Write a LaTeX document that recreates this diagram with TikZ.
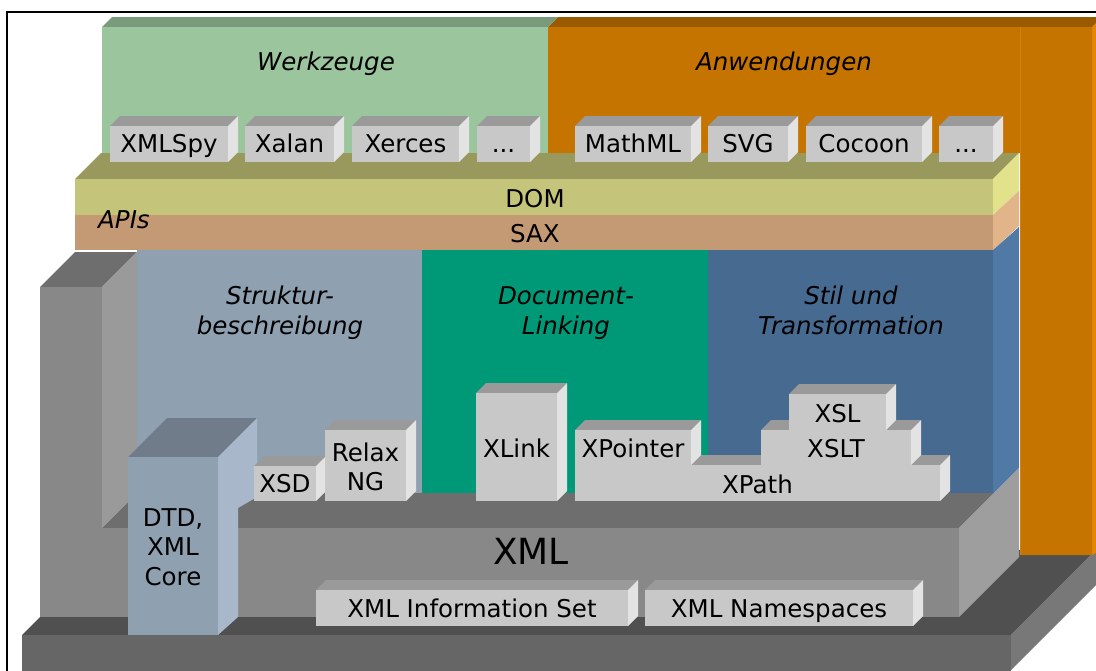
\documentclass[tikz,border=0pt]{standalone}
\usepackage{fontspec}
\setmainfont{DejaVu Sans}
\definecolor{greenF}{HTML}{9BC59D}
\definecolor{greenT}{HTML}{7A9A7C}
\definecolor{orangeF}{HTML}{C67400}
\definecolor{orangeT}{HTML}{9A5A00}
\definecolor{orangeS}{HTML}{E58600}
\definecolor{orangeL}{HTML}{D4800E}
\definecolor{boxF}{HTML}{C8C8C8}
\definecolor{boxT}{HTML}{9A9A9A}
\definecolor{boxS}{HTML}{E3E3E3}
\definecolor{apiT}{HTML}{99995E}
\definecolor{domF}{HTML}{C4C47A}
\definecolor{domS}{HTML}{E2E28A}
\definecolor{saxF}{HTML}{C49A74}
\definecolor{saxS}{HTML}{E2B48A}
\definecolor{strukF}{HTML}{8FA0B1}
\definecolor{tealF}{HTML}{009977}
\definecolor{stilF}{HTML}{476A90}
\definecolor{stilS}{HTML}{5079A6}
\definecolor{xmlF}{HTML}{888888}
\definecolor{xmlT}{HTML}{6E6E6E}
\definecolor{xmlS}{HTML}{9E9E9E}
\definecolor{colS}{HTML}{9A9A9A}
\definecolor{baseF}{HTML}{666666}
\definecolor{baseT}{HTML}{505050}
\definecolor{baseS}{HTML}{787878}
\definecolor{dtdT}{HTML}{707C8A}
\definecolor{dtdS}{HTML}{A8B8CA}
\newcommand\drawcube[8]{%
  \fill[#7] (#1,#2) -- (#3,#2) -- ({#3+#5},{#2-#5}) -- ({#1+#5},{#2-#5}) -- cycle;
  \fill[#8] (#3,#2) -- ({#3+#5},{#2-#5}) -- ({#3+#5},{#4-#5}) -- (#3,#4) -- cycle;
  \fill[#6] (#1,#2) rectangle (#3,#4);
}
\begin{document}
\begin{tikzpicture}[x=1pt,y=-1pt,
  lbl/.style={font=\fontsize{24.5}{29}\selectfont, inner sep=0pt, anchor=base, text=black},
  ital/.style={lbl, font=\fontsize{24.5}{29}\selectfont\itshape},
  big/.style={lbl, font=\fontsize{36}{40}\selectfont}]
\useasboundingbox (0,0) rectangle (1096,670);
\begin{scope}
\clip (0,0) rectangle (1096,670);
% base slab
\fill[baseT] (22,635) -- (1011,635) -- (1096,550) -- (107,550) -- cycle;
\fill[baseS] (1011,635) -- (1096,550) -- (1106,550) -- (1106,575) -- (1011,670) -- cycle;
\fill[baseF] (22,635) rectangle (1011,672);
% orange block (Anwendungen) with column
\fill[orangeT] (548,27) -- (1110,27) -- (1110,17) -- (558,17) -- cycle;
\fill[orangeS] (1092,27) -- (1102,17) -- (1110,17) -- (1110,545) -- (1092,555) -- cycle;
\fill[orangeF] (548,27) -- (1092,27) -- (1092,555) -- (1020,555) -- (1020,153) -- (548,153) -- cycle;
\draw[orangeL, line width=0.8pt] (1020,27) -- (1020,555);
% green block (Werkzeuge)
\fill[greenT] (102,27) -- (548,27) -- (558,17) -- (112,17) -- cycle;
\fill[greenF] (102,27) rectangle (548,153);
% API layer
\fill[apiT] (75,179) -- (993,179) -- (1019,153) -- (101,153) -- cycle;
\fill[domF] (75,179) rectangle (993,215);
\fill[saxF] (75,215) rectangle (993,250);
\fill[domS] (993,179) -- (1019,153) -- (1019,191) -- (993,215) -- cycle;
\fill[saxS] (993,215) -- (1019,191) -- (1019,226) -- (993,250) -- cycle;
% top row boxes
\drawcube{110}{126}{228}{162}{10}{boxF}{boxT}{boxS}
\drawcube{245}{126}{334}{162}{10}{boxF}{boxT}{boxS}
\drawcube{352}{126}{459}{162}{10}{boxF}{boxT}{boxS}
\drawcube{477}{126}{530}{162}{10}{boxF}{boxT}{boxS}
\drawcube{575}{126}{691}{162}{10}{boxF}{boxT}{boxS}
\drawcube{708}{126}{788}{162}{10}{boxF}{boxT}{boxS}
\drawcube{806}{126}{922}{162}{10}{boxF}{boxT}{boxS}
\drawcube{939}{126}{993}{162}{10}{boxF}{boxT}{boxS}
% walls
\fill[strukF] (137,250) rectangle (422,494);
\fill[tealF] (422,250) rectangle (708,494);
\fill[stilF] (708,250) rectangle (993,494);
\fill[stilS] (993,250) -- (1019,227) -- (1019,468) -- (993,494) -- cycle;
% left column
\fill[xmlT] (40,287) -- (102,287) -- (137,252) -- (75,252) -- cycle;
\fill[colS] (102,287) -- (137,252) -- (137,493) -- (102,528) -- cycle;
\fill[xmlF] (40,287) rectangle (102,617);
% XML block
\fill[xmlT] (102,528) -- (959,528) -- (994,493) -- (137,493) -- cycle;
\fill[xmlS] (959,528) -- (1019,468) -- (1019,557) -- (959,617) -- cycle;
\fill[xmlF] (102,528) rectangle (959,617);
% DTD box
\fill[dtdT] (128,457) -- (218,457) -- (257,418) -- (167,418) -- cycle;
\fill[dtdS] (218,457) -- (257,418) -- (257,497) -- (238,508) -- (238,617) -- (218,635) -- cycle;
\fill[strukF] (128,457) rectangle (218,635);
% boxes on the walls
\drawcube{254}{466}{316}{501}{10}{boxF}{boxT}{boxS}
\drawcube{325}{430}{406}{501}{10}{boxF}{boxT}{boxS}
\drawcube{476}{393}{557}{501}{10}{boxF}{boxT}{boxS}
\drawcube{575}{465}{940}{501}{10}{boxF}{boxT}{boxS}
\drawcube{575}{430}{691}{465}{10}{boxF}{boxT}{boxS}
\drawcube{761}{430}{911}{465}{10}{boxF}{boxT}{boxS}
\drawcube{789}{394}{886}{430}{10}{boxF}{boxT}{boxS}
% boxes in front of XML
\drawcube{316}{590}{628}{626}{10}{boxF}{boxT}{boxS}
\drawcube{645}{590}{913}{626}{10}{boxF}{boxT}{boxS}
\end{scope}
% labels
\node[ital] (werk) at (326,70) {Werkzeuge};
\node[ital] (anw) at (784,70) {Anwendungen};
\node[lbl] (xmlspy) at (169,152) {XMLSpy};
\node[lbl] (xalan) at (289.5,152) {Xalan};
\node[lbl] (xerces) at (405.5,152) {Xerces};
\node[lbl] (dotsA) at (503.5,152) {...};
\node[lbl] (mathml) at (633,152) {MathML};
\node[lbl] (svg) at (748,152) {SVG};
\node[lbl] (cocoon) at (864,152) {Cocoon};
\node[lbl] (dotsB) at (966,152) {...};
\node[lbl] (dom) at (535,207) {DOM};
\node[lbl] (sax) at (535,242) {SAX};
\node[ital] (apis) at (124,228) {APIs};
\node[ital] (strukA) at (280,304) {Struktur-};
\node[ital] (strukB) at (280,334) {beschreibung};
\node[ital] (docA) at (566,304) {Document-};
\node[ital] (docB) at (566,334) {Linking};
\node[ital] (stilA) at (851,304) {Stil und};
\node[ital] (stilB) at (851,334) {Transformation};
\node[lbl] (xsd) at (285,492) {XSD};
\node[lbl] (relaxA) at (365.5,461) {Relax};
\node[lbl] (relaxB) at (365.5,490) {NG};
\node[lbl] (xlink) at (516.5,457) {XLink};
\node[lbl] (xpointer) at (633,457) {XPointer};
\node[lbl] (xslt) at (836,457) {XSLT};
\node[lbl] (xsl) at (837.5,422) {XSL};
\node[lbl] (xpath) at (757.5,493) {XPath};
\node[big] (xml) at (531,564) {XML};
\node[lbl] (dtdA) at (173,526) {DTD,};
\node[lbl] (dtdB) at (173,555) {XML};
\node[lbl] (dtdC) at (173,585) {Core};
\node[lbl] (infoset) at (472,617) {XML Information Set};
\node[lbl] (ns) at (779,617) {XML Namespaces};
% frame
\draw[line width=2.2pt] (7,671) -- (7,12) -- (1097,12);
\end{tikzpicture}
\end{document}
